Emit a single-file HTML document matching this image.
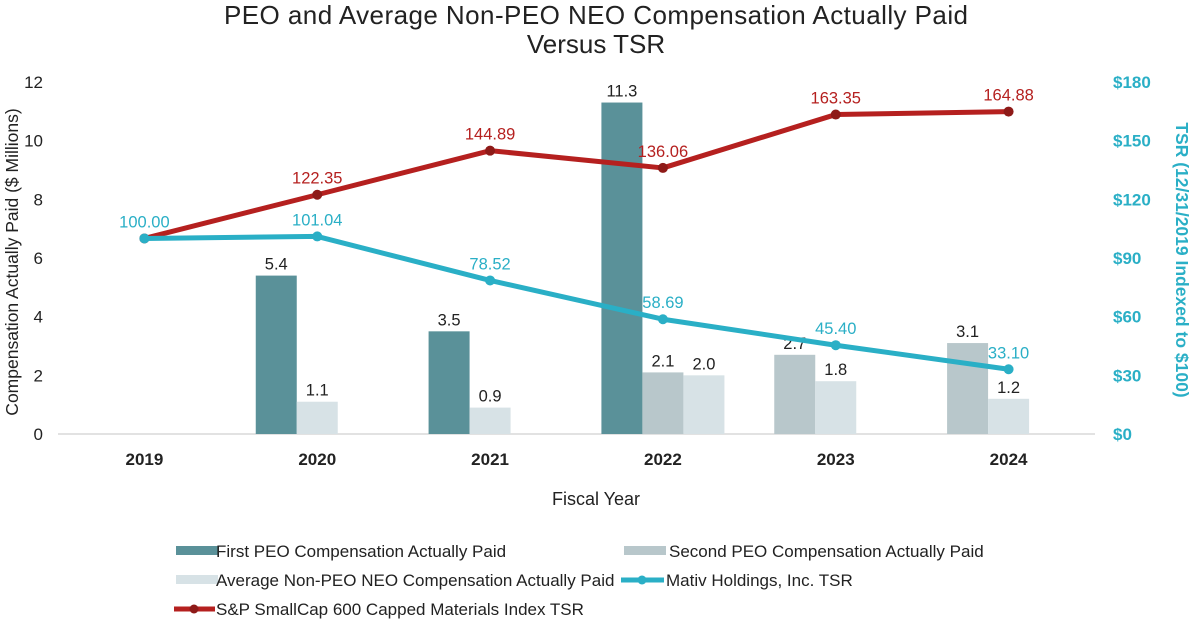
<!DOCTYPE html>
<html><head><meta charset="utf-8"><style>
body{margin:0;background:#fff;}
svg{display:block;font-family:"Liberation Sans",sans-serif;}
</style></head><body>
<svg id="chart" width="1192" height="622">
<text x="596" y="24" text-anchor="middle" font-size="26" fill="#222" textLength="744">PEO and Average Non-PEO NEO Compensation Actually Paid</text>
<text x="596" y="53" text-anchor="middle" font-size="26" fill="#222">Versus TSR</text>
<text transform="translate(18,262) rotate(-90)" text-anchor="middle" font-size="17.5" fill="#222">Compensation Actually Paid ($ Millions)</text>
<text transform="translate(1176,260) rotate(90)" text-anchor="middle" font-size="17.5" font-weight="bold" fill="#2aafc6">TSR (12/31/2019 Indexed to $100)</text>
<text x="596" y="505" text-anchor="middle" font-size="18" fill="#222">Fiscal Year</text>
<g id="plot"></g>
<g id="legend" font-size="17" fill="#222">
<rect x="176" y="546" width="42" height="9" fill="#5a9199"/>
<text x="216" y="557">First PEO Compensation Actually Paid</text>
<rect x="624" y="546" width="42" height="9" fill="#b8c7cb"/>
<text x="669" y="557">Second PEO Compensation Actually Paid</text>
<rect x="176" y="575" width="42" height="9" fill="#d7e2e6"/>
<text x="216" y="586">Average Non-PEO NEO Compensation Actually Paid</text>
<line x1="621" y1="580" x2="664" y2="580" stroke="#2aafc6" stroke-width="5"/>
<circle cx="642" cy="580" r="4.5" fill="#2aafc6"/>
<text x="666" y="586">Mativ Holdings, Inc. TSR</text>
<line x1="174" y1="609" x2="215" y2="609" stroke="#b5201f" stroke-width="5"/>
<circle cx="194" cy="609" r="4.5" fill="#8e1a18"/>
<text x="216" y="615">S&amp;P SmallCap 600 Capped Materials Index TSR</text>
</g>
</svg>
<script>
const years=["2019","2020","2021","2022","2023","2024"];
const firstPeo=[null,5.4,3.5,11.3,null,null];
const secondPeo=[null,null,null,2.1,2.7,3.1];
const avgNeo=[null,1.1,0.9,2.0,1.8,1.2];
const mativTsr=[100.00,101.04,78.52,58.69,45.40,33.10];
const spTsr=[100.00,122.35,144.89,136.06,163.35,164.88];
const leftTicks=[0,2,4,6,8,10,12];
const rightTicks=[0,30,60,90,120,150,180];

const NS="http://www.w3.org/2000/svg";
const g=document.getElementById('plot');
const y0=434,yTop=82,x0=58,x1=1095;
const yL=v=>y0-(v/12)*(y0-yTop);
const yR=v=>y0-(v/180)*(y0-yTop);
const xC=i=>x0+(x1-x0)/years.length*(i+0.5);
function mk(tag,attrs,txt){const e=document.createElementNS(NS,tag);for(const k in attrs)e.setAttribute(k,attrs[k]);if(txt!=null)e.textContent=txt;g.appendChild(e);return e;}

leftTicks.forEach(t=>{const e=mk('text',{x:43,y:yL(t)+6,'text-anchor':'end','font-size':17,fill:'#222'},t);

});
rightTicks.forEach(t=>{const e=mk('text',{x:1113,y:yR(t)+6,'font-size':17,'font-weight':'bold',fill:'#2aafc6'},'$'+t);

});
const ax=mk('line',{x1:x0,y1:y0,x2:x1,y2:y0,stroke:'#d9d9d9','stroke-width':1.5});



const series=[[firstPeo,'#5a9199','first-peo'],[secondPeo,'#b8c7cb','second-peo'],[avgNeo,'#d7e2e6','avg-neo']];
const bw=41;
years.forEach((yr,i)=>{
  const t=mk('text',{x:xC(i),y:y0+31,'text-anchor':'middle','font-size':17,'font-weight':'bold',fill:'#222'},yr);
  
  
  let slot=0;const start=xC(i)-61.5;
  series.forEach(([arr,col,nm])=>{
    const v=arr[i];if(v==null)return;
    const x=start+slot*bw;slot++;
    const r=mk('rect',{x:x,y:yL(v),width:bw,height:y0-yL(v),fill:col});
    
    
    const l=mk('text',{x:x+bw/2,y:yL(v)-6,'text-anchor':'middle','font-size':16.5,fill:'#222'},v.toFixed(1));
    
    
  });
});

function line(arr,col,mcol,nm){
  const pts=arr.map((v,i)=>xC(i)+','+yR(v)).join(' ');
  const p=mk('polyline',{points:pts,fill:'none',stroke:col,'stroke-width':5,'stroke-linejoin':'round'});
  
  
  arr.forEach((v,i)=>{
    const c=mk('circle',{cx:xC(i),cy:yR(v),r:5,fill:mcol});
    
    
  });
}
function labels(arr,nm,col,skipFirst){
  arr.forEach((v,i)=>{
    if(skipFirst&&i===0)return;
    const l=mk('text',{x:xC(i),y:yR(v)-11,'text-anchor':'middle','font-size':16.5,fill:col},v.toFixed(2));
    
    
  });
}
line(spTsr,'#b5201f','#8e1a18','sp-tsr');
line(mativTsr,'#2aafc6','#2aafc6','mativ-tsr');
labels(spTsr,'sp-tsr','#b5201f',true);
labels(mativTsr,'mativ-tsr','#2aafc6',false);
</script>
</body></html>
